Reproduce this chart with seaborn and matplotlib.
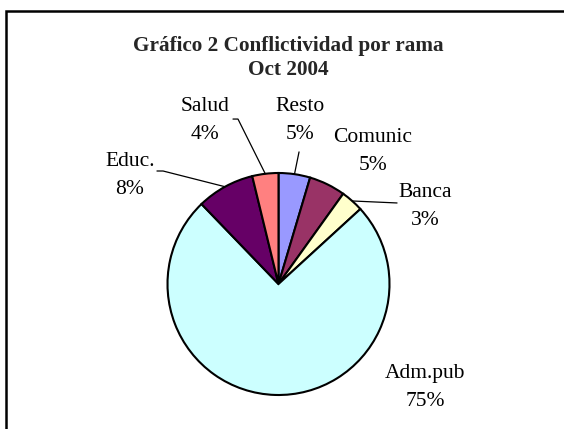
import numpy as np
import matplotlib
matplotlib.use("Agg")
import matplotlib.pyplot as plt
import seaborn as sns
from matplotlib.patches import Rectangle

# Data (clockwise from 12 o'clock)
ramas = ["Resto", "Comunic", "Banca", "Adm.pub", "Educ.", "Salud"]
valores = [4.6, 5.3, 3.3, 74.6, 8.4, 3.8]
colores = ["#9999FF", "#993366", "#FFFFCC", "#CCFFFF", "#660066", "#FF8080"]

titulo = "Gráfico 2 Conflictividad por rama\nOct 2004"

# Layout: label centres (pie radius units) and leader-line anchors
pos_etiquetas = {
    "Resto": (0.19, 1.47),
    "Comunic": (0.85, 1.195),
    "Banca": (1.32, 0.70),
    "Adm.pub": (1.32, -0.93),
    "Educ.": (-1.34, 0.975),
    "Salud": (-0.66, 1.47),
}
guias = {
    "Salud": [(-0.41, 1.486), (-0.365, 1.486)],
    "Resto": [(0.185, 1.19)],
    "Educ.": [(-1.095, 1.018), (-1.04, 1.018)],
    "Banca": [(1.068, 0.73)],
}

sns.set_theme(style="white")
plt.rcParams["font.family"] = ["Liberation Serif", "DejaVu Serif"]

W, H = 564, 429
cx, cy, R = 278.5, 284, 111

fig = plt.figure(figsize=(W / 100, H / 100), dpi=100)
fig.patch.set_facecolor("white")
ax = fig.add_axes([0, 0, 1, 1])

wedges, _ = ax.pie(
    valores,
    colors=colores,
    startangle=90,
    counterclock=False,
    radius=1,
    wedgeprops=dict(edgecolor="black", linewidth=1.5),
)

total = sum(valores)
for w, nombre, v in zip(wedges, ramas, valores):
    x, y = pos_etiquetas[nombre]
    ax.text(x, y, f"{nombre}\n{v / total * 100:.0f}%", ha="center", va="center",
            fontsize=15.5, linespacing=1.65, color="black")
    if nombre in guias:
        mid = np.deg2rad((w.theta1 + w.theta2) / 2)
        pts = guias[nombre] + [(np.cos(mid), np.sin(mid))]
        xs, ys = zip(*pts)
        ax.plot(xs, ys, color="black", linewidth=0.9)

ax.set_xlim(-cx / R, (W - cx) / R)
ax.set_ylim(-(H - cy) / R, cy / R)
ax.set_aspect("auto")
ax.axis("off")

fig.text(288 / W, 1 - 58 / H, titulo, ha="center", va="center",
         fontsize=15.3, fontweight="bold", linespacing=1.3)

# chart frame (cropped on right and bottom)
fig.patches.append(Rectangle((6 / W, -0.1), 2, 1 - 11 / H + 0.1,
                             transform=fig.transFigure, fill=False,
                             edgecolor="black", linewidth=1.8))

fig.savefig("out.png", dpi=100, facecolor="white")
